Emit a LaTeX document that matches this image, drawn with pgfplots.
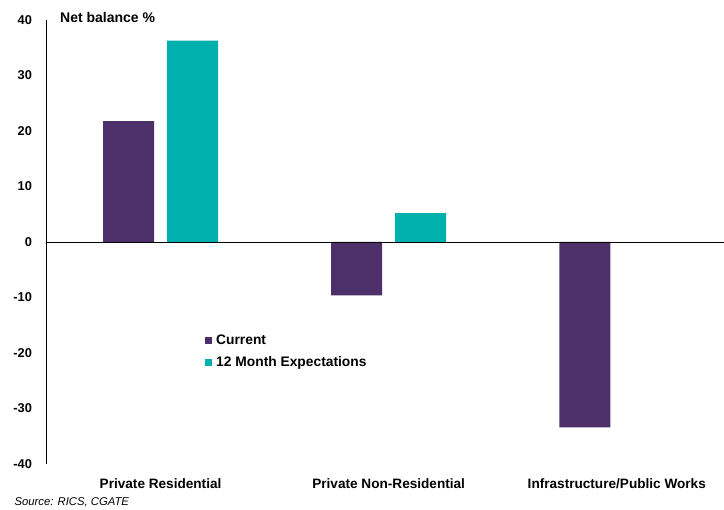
\documentclass[border=0pt]{standalone}
\usepackage{pgfplots}
\pgfplotsset{compat=1.18}
\usepackage{fontspec}
\setmainfont{Liberation Sans}
\definecolor{cur}{HTML}{4D2F6A}
\definecolor{exp}{HTML}{00B0AD}
\begin{document}
\begin{tikzpicture}[x=1pt,y=1pt]
\path[use as bounding box] (0,0) rectangle (724,510);
\begin{axis}[
  at={(46.5pt,46pt)}, anchor=south west,
  scale only axis, width=677.5pt, height=444pt,
  xmin=-0.5, xmax=2.47, ymin=-40, ymax=40,
  ybar=13pt, bar width=51pt,
  axis lines*=left,
  x axis line style={draw=none},
  y axis line style={black, line width=0.8pt},
  xtick={0,1,2},
  xticklabels={Private Residential, Private Non-Residential, Infrastructure/Public Works},
  ytick={-40,-30,...,40},
  major tick length=0pt,
  /pgf/number format/assume math mode=true,
  yticklabel style={font=\fontsize{12.8}{14}\selectfont\bfseries, xshift=-11pt},
  xticklabel style={font=\fontsize{13.6}{15}\selectfont\bfseries, yshift=-11pt},
  legend style={at={(0.234,0.296)}, anchor=north west, draw=none, fill=none,
    font=\fontsize{13.8}{15}\selectfont\bfseries, row sep=7pt,
    inner sep=0pt, cells={anchor=west}},
  legend image code/.code={\path (0pt,0pt) -- (9pt,0pt);\fill[#1,draw=none] (0pt,-3.5pt) rectangle (7pt,3.5pt);},
  legend cell align=left,
  clip=false,
]
\addplot[fill=cur, draw=none] coordinates {(0,21.8) (1,-9.6) (2,-33.4)};
\addplot[fill=exp, draw=none] coordinates {(0,36.3) (1,5.2)};
\legend{Current, 12 Month Expectations}
\draw[black, line width=0.8pt] (axis cs:-0.5,0) -- (axis cs:2.47,0);
\node[anchor=west, font=\fontsize{14}{16}\selectfont\bfseries] at (rel axis cs:0.015,1.005) {Net balance \%};
\end{axis}
\node[anchor=base west, font=\fontsize{11.3}{13}\selectfont\itshape] at (11,4) {Source: RICS, CGATE};
\end{tikzpicture}
\end{document}
